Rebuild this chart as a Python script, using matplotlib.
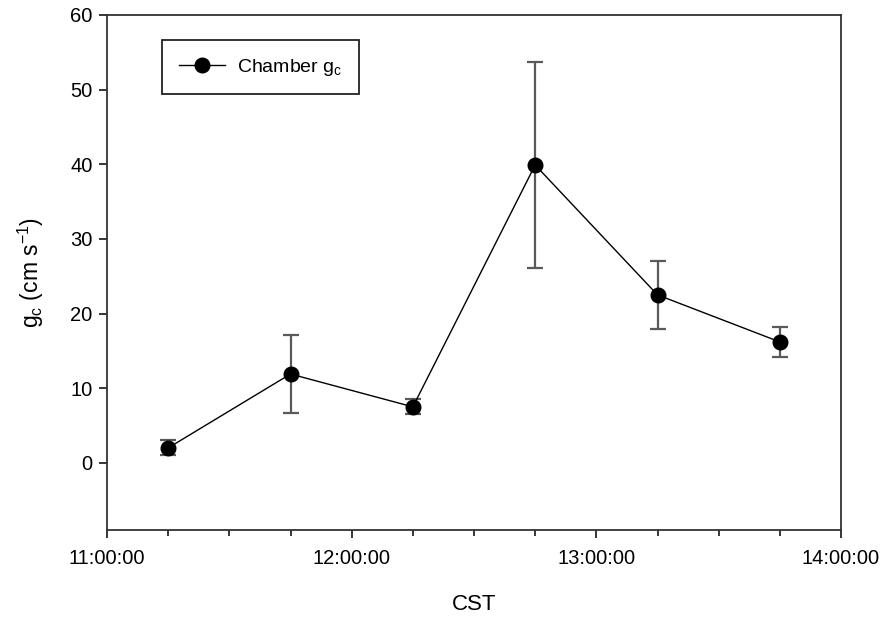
import datetime as dt
import matplotlib
matplotlib.use("Agg")
import matplotlib.pyplot as plt
import matplotlib.dates as mdates

plt.rcParams['font.family'] = ['Liberation Sans', 'DejaVu Sans']

# chamber conductance by half-hour, mean and error
times = ["11:15", "11:45", "12:15", "12:45", "13:15", "13:45"]
gc_mean = [2.0, 11.9, 7.5, 39.9, 22.5, 16.2]
gc_err = [1.0, 5.2, 1.0, 13.8, 4.6, 2.0]

day = dt.date(2000, 1, 1)
x = [dt.datetime.combine(day, dt.datetime.strptime(t, "%H:%M").time()) for t in times]

fig = plt.figure(figsize=(8.91, 6.19), dpi=100)
# axes box: left 107px, right 841px, top 15px, bottom 530px
ax = fig.add_axes([107 / 891, 1 - 530 / 619, 734 / 891, 515 / 619])

# error bars first (gray), then the black line and markers on top
ax.errorbar(x, gc_mean, yerr=gc_err, fmt='none', ecolor='#5a5a5a',
            elinewidth=1.6, capsize=6, capthick=1.6, zorder=2)
ax.plot(x, gc_mean, color='black', marker='o', markersize=10.5, linewidth=1,
        label=r'Chamber g$_\mathregular{c}$', zorder=3)

ax.set_xlim(dt.datetime(2000, 1, 1, 11, 0), dt.datetime(2000, 1, 1, 14, 0))
ax.set_ylim(-9, 60)
ax.set_yticks([0, 10, 20, 30, 40, 50, 60])
ax.xaxis.set_major_locator(mdates.HourLocator())
ax.xaxis.set_minor_locator(mdates.MinuteLocator(byminute=[15, 30, 45]))
ax.xaxis.set_major_formatter(mdates.DateFormatter('%H:%M:%S'))

ax.tick_params(axis='both', which='major', length=5.5, width=1.1, labelsize=14.5)
ax.tick_params(axis='x', which='major', pad=8)
ax.tick_params(axis='y', which='major', pad=5)
ax.tick_params(axis='x', which='minor', length=4.5, width=1.1)
for s in ax.spines.values():
    s.set_linewidth(1.3)
    s.set_color('#333333')

ax.set_xlabel('CST', fontsize=16, labelpad=19)
ax.set_ylabel(r'g$_\mathregular{c}$ (cm s$^\mathregular{-1}$)', fontsize=16.5, labelpad=17)

leg = ax.legend(loc='upper left', bbox_to_anchor=(55 / 734, 490 / 515), fontsize=14,
                fancybox=False, edgecolor='#222222', framealpha=1,
                borderpad=0.85, handlelength=2.4, handletextpad=0.6,
                borderaxespad=0)
leg.get_frame().set_linewidth(1.3)

fig.savefig('out.png', dpi=100)
